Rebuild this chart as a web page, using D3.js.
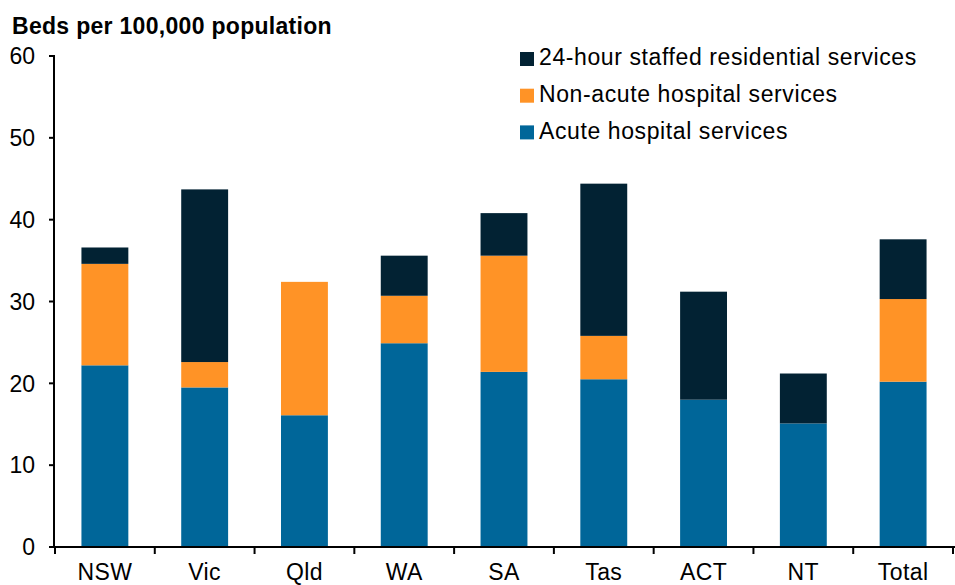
<!DOCTYPE html>
<html>
<head>
<meta charset="utf-8">
<script src="https://cdn.jsdelivr.net/npm/d3@7"></script>
<style>
  body { margin: 0; background: #fff; }
  text { font-family: "Liberation Sans", Arial, sans-serif; fill: #000; }
</style>
</head>
<body>
<div id="chart"></div>
<script>
// Beds per 100,000 population by state
const categories = ["NSW", "Vic", "Qld", "WA", "SA", "Tas", "ACT", "NT", "Total"];
const acute       = [22.2, 19.5, 16.1, 24.9, 21.4, 20.5, 18.0, 15.1, 20.2];
const nonAcute    = [12.4,  3.1, 16.3,  5.8, 14.2,  5.3,  0.0,  0.0, 10.1];
const residential = [ 2.0, 21.1,  0.0,  4.9,  5.2, 18.6, 13.2,  6.1,  7.3];
const yTicks = [0, 10, 20, 30, 40, 50, 60];

const seriesKeys = ["acute", "nonAcute", "residential"];
const seriesLabels = {
    residential: "24-hour staffed residential services",
    nonAcute: "Non-acute hospital services",
    acute: "Acute hospital services"
};
const colors = { acute: "#006699", nonAcute: "#FF9326", residential: "#022233" };

const width = 955;
const height = 585;
const margin = { top: 56, right: 2, bottom: 38, left: 55 };

const rows = categories.map((c, i) => ({
    cat: c, acute: acute[i], nonAcute: nonAcute[i], residential: residential[i]
}));

const svg = d3.select("#chart").append("svg")
    .attr("width", width)
    .attr("height", height);

const x = d3.scaleBand()
    .domain(categories)
    .range([margin.left, width - margin.right])
    .paddingInner(0.53)
    .paddingOuter(0.265);

const y = d3.scaleLinear()
    .domain([0, 60])
    .range([height - margin.bottom, margin.top]);

const stacked = d3.stack().keys(seriesKeys)(rows);

// Bars
svg.append("g").selectAll("g")
    .data(stacked)
    .join("g")
    .attr("fill", d => colors[d.key])
    .selectAll("rect")
    .data(d => d.filter(p => p[1] - p[0] > 0))
    .join("rect")
    .attr("x", d => x(d.data.cat))
    .attr("width", x.bandwidth())
    .attr("y", d => y(d[1]))
    .attr("height", d => y(d[0]) - y(d[1]));

// Y axis
const yAxis = svg.append("g");
yAxis.append("line")
    .attr("x1", margin.left - 1).attr("x2", margin.left - 1)
    .attr("y1", y(60)).attr("y2", y(0))
    .attr("stroke", "#000").attr("stroke-width", 2);
yAxis.selectAll(".ytick")
    .data(yTicks)
    .join("line")
    .attr("x1", margin.left - 6).attr("x2", margin.left)
    .attr("y1", d => y(d)).attr("y2", d => y(d))
    .attr("stroke", "#000").attr("stroke-width", 2);
yAxis.selectAll(".ylab")
    .data(yTicks)
    .join("text")
    .attr("x", 35)
    .attr("y", d => y(d))
    .attr("dy", "0.36em")
    .attr("text-anchor", "end")
    .style("font-size", "23px")
    .text(d => d);

// X axis
const xAxis = svg.append("g");
xAxis.append("line")
    .attr("x1", margin.left - 6).attr("x2", width)
    .attr("y1", y(0)).attr("y2", y(0))
    .attr("stroke", "#000").attr("stroke-width", 2);
xAxis.selectAll(".xtick")
    .data(d3.range(categories.length + 1))
    .join("line")
    .attr("x1", i => margin.left + i * x.step())
    .attr("x2", i => margin.left + i * x.step())
    .attr("y1", y(0)).attr("y2", y(0) + 7)
    .attr("stroke", "#000").attr("stroke-width", 2);
xAxis.selectAll(".xlab")
    .data(categories)
    .join("text")
    .attr("x", d => x(d) + x.bandwidth() / 2)
    .attr("y", y(0) + 33)
    .attr("text-anchor", "middle")
    .style("font-size", "23px")
    .style("letter-spacing", "0.4px")
    .text(d => d);

// Title
svg.append("text")
    .attr("x", 12)
    .attr("y", 34)
    .style("font-size", "23px")
    .style("font-weight", "bold")
    .style("letter-spacing", "0.3px")
    .text("Beds per 100,000 population");

// Legend
const legend = svg.append("g").attr("transform", "translate(520, 57)");
["residential", "nonAcute", "acute"].forEach((k, i) => {
    const g = legend.append("g").attr("transform", `translate(0, ${i * 36.7})`);
    g.append("rect").attr("x", 0).attr("y", -5).attr("width", 14).attr("height", 14)
        .attr("fill", colors[k]);
    g.append("text").attr("x", 19).attr("y", 0).attr("dy", "0.36em")
        .style("font-size", "23px")
        .style("letter-spacing", "0.6px")
        .text(seriesLabels[k]);
});
</script>
</body>
</html>
